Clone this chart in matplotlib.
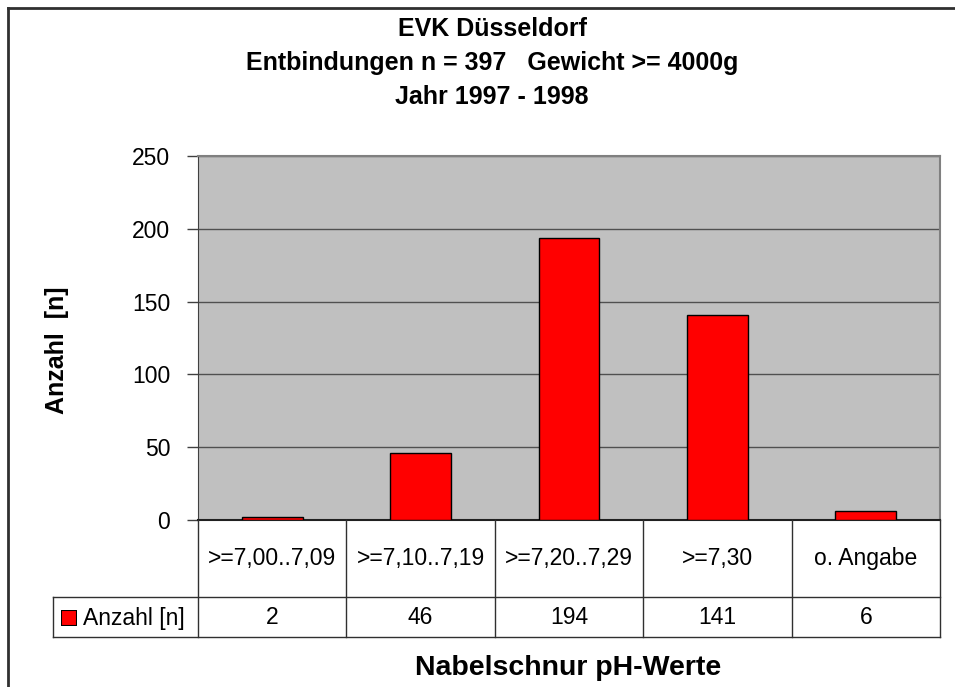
import matplotlib
matplotlib.use("Agg")
import matplotlib.pyplot as plt
from matplotlib.lines import Line2D
import matplotlib.transforms as mtransforms

plt.rcParams['font.family'] = ['Liberation Sans', 'DejaVu Sans']

categories = [">=7,00..7,09", ">=7,10..7,19", ">=7,20..7,29", ">=7,30", "o. Angabe"]
values = [2, 46, 194, 141, 6]
series_name = "Anzahl [n]"
title_lines = ["EVK Düsseldorf", "Entbindungen n = 397   Gewicht >= 4000g", "Jahr 1997 - 1998"]
yticks = [0, 50, 100, 150, 200, 250]

W, H = 955, 687
fig = plt.figure(figsize=(W / 100, H / 100), dpi=100)
fig.patch.set_facecolor('white')

def fx(px):
    return px / W

def fy(py):
    return 1 - py / H

left, right, top, bottom = 198, 940, 156, 520
ax = fig.add_axes([fx(left), fy(bottom), fx(right) - fx(left), fy(top) - fy(bottom)])
ax.set_facecolor('#C0C0C0')
x = list(range(len(categories)))
ax.bar(x, values, width=0.41, color='#FF0000', edgecolor='black', linewidth=1.0, zorder=3)
ax.set_xlim(-0.5, len(categories) - 0.5)
ax.set_ylim(0, 250)
ax.set_yticks(yticks)
ax.yaxis.grid(True, color='#505050', linewidth=1.0, zorder=0)
ax.set_axisbelow(True)
ax.tick_params(axis='y', direction='out', length=8, width=1, color='#404040', labelsize=16.5, pad=12)
ax.set_xticks([])
for s in ['top', 'right']:
    ax.spines[s].set_color('#808080')
    ax.spines[s].set_linewidth(1.5)
ax.spines['left'].set_color('#404040')
ax.spines['bottom'].set_color('#202020')
ax.spines['bottom'].set_linewidth(1.5)

# data table
trans = mtransforms.blended_transform_factory(ax.transData, fig.transFigure)
row1_top, row1_bot, row2_bot = bottom, 597, 637
lc = '#303030'
fig.add_artist(Line2D([fx(53), fx(right)], [fy(row1_bot)] * 2, color=lc, lw=1.0))
fig.add_artist(Line2D([fx(53), fx(right)], [fy(row2_bot)] * 2, color=lc, lw=1.0))
for i in range(len(categories) + 1):
    fig.add_artist(Line2D([i - 0.5, i - 0.5], [fy(row1_top), fy(row2_bot)], color=lc, lw=1.0, transform=trans))
fig.add_artist(Line2D([fx(53), fx(53)], [fy(row1_bot), fy(row2_bot)], color=lc, lw=1.0))
for i, (c, v) in enumerate(zip(categories, values)):
    fig.text(i, fy((row1_top + row1_bot) / 2), c, transform=trans, ha='center', va='center', fontsize=16.5)
    fig.text(i, fy((row1_bot + row2_bot) / 2), str(v), transform=trans, ha='center', va='center', fontsize=16.5)
# legend key
ax_key = fig.add_axes([fx(61), fy(626), fx(16), fy(610) - fy(626)])
ax_key.set_xlim(0, 1); ax_key.set_ylim(0, 1)
ax_key.add_patch(plt.Rectangle((0, 0), 1, 1, facecolor='#FF0000', edgecolor='black', lw=1.5))
ax_key.axis('off')
fig.text(fx(83), fy(618), series_name, ha='left', va='center', fontsize=16.5)

# titles
for j, t in enumerate(title_lines):
    fig.text(fx(492), fy(29 + j * 34), t, ha='center', va='center', fontsize=18, fontweight='bold')
fig.text(fx(568), fy(668), "Nabelschnur pH-Werte", ha='center', va='center', fontsize=20.5, fontweight='bold')
fig.text(fx(57), fy(350), "Anzahl  [n]", ha='center', va='center', rotation=90, fontsize=18, fontweight='bold')

# outer border
fig.add_artist(Line2D([fx(8), fx(8)], [fy(8), 0], color='#303030', lw=2))
fig.add_artist(Line2D([fx(8), 1], [fy(8), fy(8)], color='#303030', lw=2))

fig.savefig('out.png', dpi=100)
